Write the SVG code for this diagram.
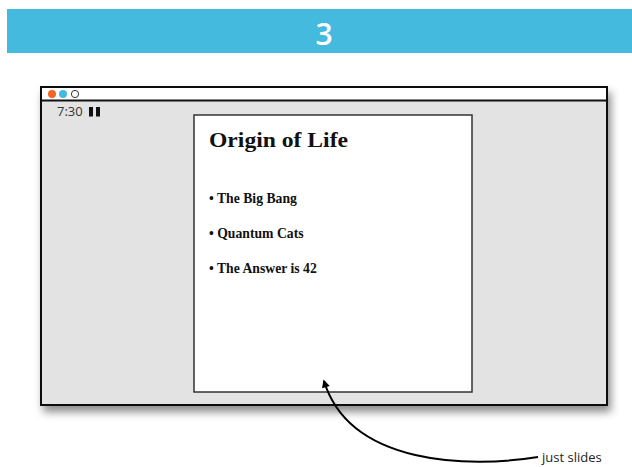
<svg xmlns="http://www.w3.org/2000/svg" width="632" height="467" viewBox="0 0 632 467">
<defs>
<filter id="shadow" x="-10%" y="-10%" width="125%" height="130%">
<feDropShadow dx="3" dy="6" stdDeviation="4" flood-color="#000" flood-opacity="0.45"/>
</filter>
<marker id="arrow" viewBox="0 0 10 10" refX="8" refY="5" markerWidth="9" markerHeight="8" orient="auto-start-reverse" markerUnits="userSpaceOnUse">
<path d="M0,0 L10,5 L0,10 Z" fill="#000"/>
</marker>
</defs>
<style>
.slide-text{font-family:"Liberation Serif","DejaVu Serif",serif;font-weight:bold;fill:#111}
.bullet{font-size:13.7px}
.sans{font-family:"Open Sans","Liberation Sans",sans-serif}
</style>
<rect width="632" height="467" fill="#fff"/>
<g id="header">
<rect x="7" y="9" width="625" height="44" fill="#45badf"/>
<text x="324" y="45" text-anchor="middle" class="sans" font-size="30" font-weight="600" fill="#fff">3</text>
</g>
<g id="window">
<g filter="url(#shadow)">
<rect x="41" y="87" width="566" height="318" fill="#e3e3e3" stroke="#111" stroke-width="2"/>
</g>
<rect x="42" y="88" width="564" height="12" fill="#fff"/>
<line x1="41" y1="100.5" x2="607" y2="100.5" stroke="#111" stroke-width="2"/>
<circle cx="52" cy="94" r="4" fill="#f26522"/>
<circle cx="63" cy="94" r="4" fill="#45badf"/>
<circle cx="75" cy="94" r="3.6" fill="#fff" stroke="#333" stroke-width="1"/>
<text x="57" y="116" class="sans" font-size="13" fill="#333">7:30</text>
<rect x="89" y="107" width="4" height="9.5" fill="#111"/>
<rect x="96" y="107" width="4" height="9.5" fill="#111"/>
</g>
<g id="slide">
<rect x="194" y="115" width="278" height="277" fill="#fff" stroke="#333" stroke-width="1.5"/>
<text x="209" y="147" class="slide-text" font-size="21" textLength="139" lengthAdjust="spacingAndGlyphs">Origin of Life</text>
<text x="209" y="203" class="slide-text bullet">• The Big Bang</text>
<text x="209" y="238" class="slide-text bullet">• Quantum Cats</text>
<text x="209" y="273" class="slide-text bullet">• The Answer is 42</text>
</g>
<g id="connectors">
<path d="M 538 457 C 470 468, 350 466, 324 381" fill="none" stroke="#000" stroke-width="2" marker-end="url(#arrow)"/>
</g>
<g id="label">
<text x="542" y="462" class="sans" font-size="13" fill="#222">just slides</text>
</g>
</svg>
